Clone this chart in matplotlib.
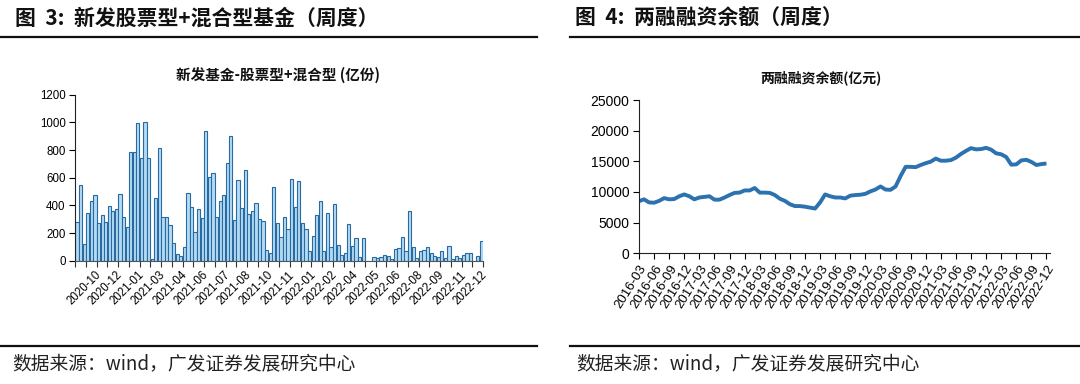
import numpy as np
import matplotlib
matplotlib.use("Agg")
import matplotlib.pyplot as plt
from matplotlib.lines import Line2D

plt.rcParams['font.family'] = ['Noto Sans CJK SC', 'DejaVu Sans']

# 新发股票型+混合型基金，周度（亿份）
new_funds = [277, 547, 118, 342, 431, 472, 270, 330, 282, 398, 359, 374, 480, 316, 241,
             786, 786, 993, 740, 1005, 740, 10, 451, 817, 318, 316, 255, 125, 48, 36,
             96, 492, 386, 207, 374, 308, 937, 603, 636, 316, 429, 472, 709, 899, 292,
             583, 381, 656, 337, 361, 414, 299, 289, 77, 58, 530, 270, 171, 313, 229,
             588, 390, 576, 272, 227, 70, 176, 330, 429, 67, 342, 96, 407, 111, 41,
             53, 263, 106, 161, 27, 161, 0, 0, 24, 17, 27, 41, 36, 14, 82,
             92, 171, 70, 359, 101, 17, 70, 80, 96, 53, 34, 24, 70, 17, 106,
             12, 34, 22, 39, 53, 53, 0, 36, 142]
fund_labels = ['2020-10', '2020-12', '2021-01', '2021-03', '2021-04', '2021-06', '2021-07',
               '2021-08', '2021-10', '2021-11', '2022-01', '2022-02', '2022-04', '2022-05',
               '2022-06', '2022-08', '2022-09', '2022-11', '2022-12']

# 两融融资余额，月度读数（亿元），2016-03 起
margin = [8500, 8800, 8300, 8250, 8550, 9000, 8800, 8850, 9300, 9600,
          9300, 8800, 9100, 9200, 9300, 8750, 8750, 9100, 9500, 9850,
          9900, 10250, 10250, 10650, 9900, 9900, 9850, 9500, 8900, 8550,
          8000, 7700, 7700, 7600, 7450, 7300, 8300, 9600, 9300, 9100,
          9100, 8950, 9400, 9500, 9550, 9700, 10100, 10400, 10900, 10400,
          10350, 10900, 12600, 14100, 14100, 14050, 14400, 14700, 14950, 15450,
          15100, 15100, 15200, 15600, 16200, 16700, 17150, 16950, 17000, 17200,
          16900, 16300, 16150, 15700, 14450, 14500, 15150, 15250, 14900, 14400,
          14550, 14650]
margin_labels = ['%d-%02d' % (2016 + (m - 1) // 12, (m - 1) % 12 + 1)
                 for m in range(3, 3 + 84, 3)][:28]

fig = plt.figure(figsize=(10.8, 3.84), dpi=100)

# headers and rules
fig.text(15 / 1080, 1 - 18 / 384, '图  3:  新发股票型+混合型基金（周度）', fontsize=15,
         fontweight='bold', va='center', ha='left', color='#111111')
fig.text(575 / 1080, 1 - 18 / 384, '图  4:  两融融资余额（周度）', fontsize=15,
         fontweight='bold', va='center', ha='left', color='#111111')
for x0, x1 in [(0, 537), (570, 1080)]:
    for yy in (37, 346):
        fig.add_artist(Line2D([x0 / 1080, x1 / 1080], [1 - yy / 384, 1 - yy / 384],
                              color='#111111', lw=1.6))
fig.text(12 / 1080, 1 - 364 / 384, '数据来源：wind，广发证券发展研究中心', fontsize=13.5,
         va='center', ha='left', color='#222222')
fig.text(576 / 1080, 1 - 364 / 384, '数据来源：wind，广发证券发展研究中心', fontsize=13.5,
         va='center', ha='left', color='#222222')

# left: bar chart
ax1 = fig.add_axes([75.3 / 1080, 1 - 260.7 / 384, (483 - 75.3) / 1080, (260.7 - 94.7) / 384])
x = np.arange(len(new_funds))
ax1.bar(x, new_funds, width=0.9, color='#b3dbf4', edgecolor='#2a6aa3', lw=0.8)
ax1.set_xlim(-0.5, len(new_funds) - 0.5)
ax1.set_ylim(0, 1200)
ax1.set_yticks(range(0, 1201, 200))
ax1.set_xticks(np.arange(-0.5, len(new_funds), 3))
ax1.set_xticklabels([])
ax1.set_xticks(np.arange(5, len(new_funds), 6), minor=True)
ax1.set_xticklabels(fund_labels, minor=True, rotation=45, ha='right',
                    rotation_mode='anchor', family=['Liberation Sans'], fontsize=8.3)
ax1.tick_params(axis='x', which='minor', length=0, pad=6)
ax1.tick_params(axis='x', which='major', length=4, width=0.8, color='#333333')
ax1.tick_params(axis='y', length=4, width=0.8, labelsize=8.3, pad=3)
for lab in ax1.get_yticklabels():
    lab.set_family(['Liberation Sans'])
for s in ('top', 'right'):
    ax1.spines[s].set_visible(False)
ax1.spines['left'].set_color('#222222')
ax1.spines['bottom'].set_color('#555555')
fig.text(278 / 1080, 1 - 75 / 384, '新发基金-股票型+混合型 (亿份)', fontsize=10.5,
         fontweight='bold', ha='center', va='center', color='#111111')

# right: line chart
ax2 = fig.add_axes([639 / 1080, 1 - 253.3 / 384, (1050 - 639) / 1080, (253.3 - 100) / 384])
xm = np.arange(len(margin))
ax2.plot(xm, margin, color='#2b72ae', lw=2.8, solid_capstyle='butt')
ax2.set_xlim(0, 81.7)
ax2.set_ylim(0, 25000)
ax2.set_yticks(range(0, 25001, 5000))
ax2.set_xticks(np.arange(0, 82, 3))
ax2.set_xticklabels(margin_labels, rotation=58, ha='right', rotation_mode='anchor',
                    family=['Liberation Sans'], fontsize=9.5)
ax2.tick_params(axis='x', length=4, width=0.8, pad=3)
ax2.tick_params(axis='y', length=4, width=0.8, labelsize=10, pad=3)
for lab in ax2.get_yticklabels():
    lab.set_family(['Liberation Sans'])
for s in ('top', 'right'):
    ax2.spines[s].set_visible(False)
ax2.spines['left'].set_color('#222222')
ax2.spines['bottom'].set_color('#222222')
fig.text(821 / 1080, 1 - 78 / 384, '两融融资余额(亿元)', fontsize=10,
         fontweight='bold', ha='center', va='center', color='#111111')

fig.savefig('out.png', dpi=100)
